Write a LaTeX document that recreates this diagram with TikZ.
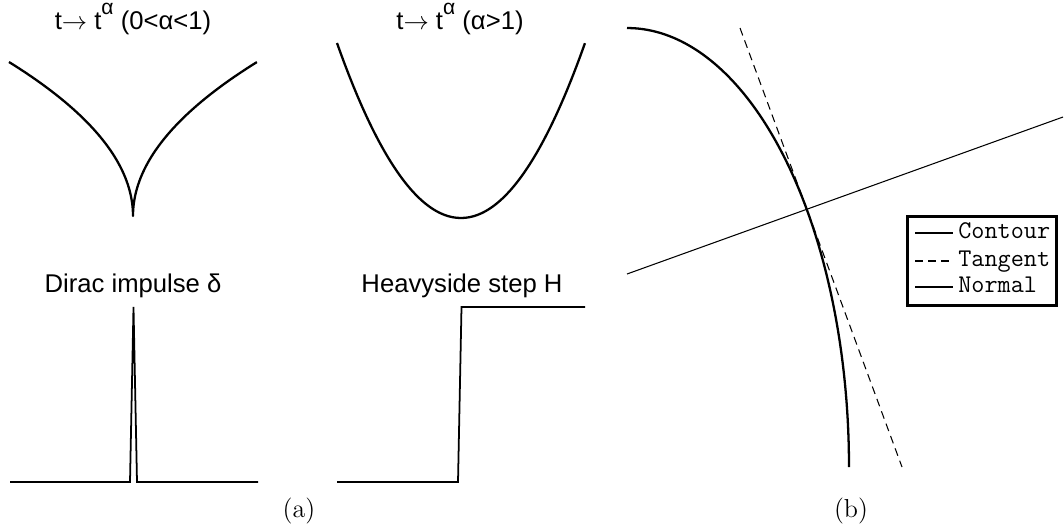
\documentclass[tikz,border=0pt]{standalone}
\usepackage{fontspec}
\usepackage{tikz}
\usetikzlibrary{positioning}
\newfontfamily\plotfont{Liberation Sans}
\newcommand{\supalpha}{\raisebox{0.55em}{\fontsize{12}{13}\selectfont α}}
\tikzset{
  curve/.style={line width=1.3pt, line join=round},
  baseline/.style={line width=1pt, line join=miter},
  thinline/.style={line width=0.6pt},
  tangline/.style={line width=0.6pt, dash pattern=on 4.5pt off 3pt},
  title/.style={font=\plotfont\fontsize{14.6}{17}\selectfont, inner sep=0pt, anchor=base},
  sublabel/.style={font=\fontsize{14.8}{17}\selectfont, inner sep=0pt, anchor=base},
  legtext/.style={font=\ttfamily\fontsize{14.5}{16}\selectfont, anchor=west,
    inner xsep=2.8pt, inner ysep=0pt, text height=0.6em, text depth=0pt},
  legbox/.style={draw, line width=1.7pt}
}

\begin{document}
\begin{tikzpicture}[x=0.02cm, y=-0.02cm]
  \useasboundingbox (0,0) rectangle (1064,528);

  % Power laws
  \node[title] (ttlroot) at (133,29) {t$\rightarrow$ t\supalpha{} (0<α<1)};
  \draw[curve] plot[domain=-1:1, samples=81, smooth] ({133+124*\x*abs(\x)}, {216-154*abs(\x)});
  \node[title] (ttlsquare) at (460,29) {t$\rightarrow$ t\supalpha{} (α>1)};
  \draw[curve] plot[domain=-1:1, samples=61, smooth] ({461+124*\x}, {218-175*\x*\x});

  % Dirac and Heavyside
  \node[title] (ttldirac) at (133,292) {Dirac impulse δ};
  \draw[baseline] (10,482) -- (130,482) -- (133.5,307) -- (137,482) -- (258,482);
  \node[title] (ttlstep) at (462,292) {Heavyside step H};
  \draw[baseline] (337,482) -- (458,482) -- (461.5,307) -- (585,307);

  % Contour, tangent, normal
  \draw[curve] plot[domain=0:90, samples=60, smooth] ({627+222*cos(\x)}, {467-439*sin(\x)});
  \draw[tangline] (740,28) -- (902,467);
  \draw[thinline] (627,274) -- (1063,117);

  % Legend
  \draw[legbox] (907,216) rectangle (1056,305);
  \node[legtext] (legcontour) at (953,233) {Contour};
  \node[legtext] (legtangent) at (953,261) {Tangent};
  \node[legtext] (legnormal) at (953,287) {Normal};
  \coordinate (keycontour) at (915,233);
  \coordinate (keytangent) at (915,261);
  \coordinate (keynormal) at (915,287);
  \draw[curve, line width=1.5pt] (keycontour) -- (legcontour.west);
  \draw[tangline] (keytangent) -- (legtangent.west);
  \draw[thinline] (keynormal) -- (legnormal.west);

  % Sub-figure labels
  \node[sublabel] (lbla) at (299,517) {(a)};
  \node[sublabel] (lblb) at (851,517) {(b)};
\end{tikzpicture}
\end{document}
